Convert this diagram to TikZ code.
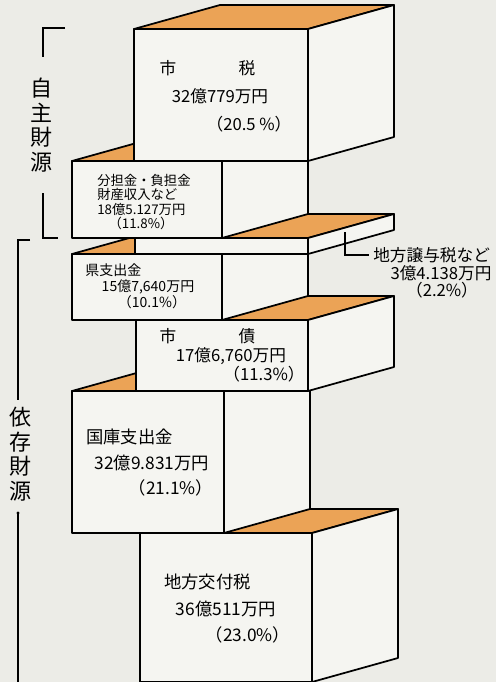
\documentclass[tikz,border=0pt]{standalone}
\usepackage{fontspec}
\setmainfont{Noto Sans CJK JP}
\definecolor{bgc}{RGB}{236,236,231}
\definecolor{facec}{RGB}{245,245,241}
\definecolor{topc}{RGB}{235,163,86}
\newcommand\drawblock[4]{%
  \filldraw[topface] (#1,#3) -- (#2,#3) -- ({#2+86},{#3-24}) -- ({#1+86},{#3-24}) -- cycle;
  \filldraw[sideface] (#2,#3) -- ({#2+86},{#3-24}) -- ({#2+86},{#4-24}) -- (#2,#4) -- cycle;
  \filldraw[frontface] (#1,#3) rectangle (#2,#4);}
\begin{document}
\begin{tikzpicture}[x=0.75pt,y=-0.75pt,
  edge/.style={draw=black, line width=1.3pt, line join=round},
  topface/.style={edge, fill=topc},
  sideface/.style={edge, fill=facec},
  frontface/.style={edge, fill=facec},
  brk/.style={draw=black, line width=1.1pt},
  txt/.style={inner sep=0pt},
  fA/.style={txt, font=\fontsize{12.5}{15}\selectfont},
  fB/.style={txt, font=\fontsize{10}{12}\selectfont},
  fC/.style={txt, font=\fontsize{10.5}{12}\selectfont},
  fD/.style={txt, font=\fontsize{13}{15}\selectfont},
  fL/.style={font=\fontsize{12.5}{15}\selectfont},
  fV/.style={txt, align=center, font=\fontsize{16.5}{18.4}\selectfont}]
\useasboundingbox (0,0) rectangle (496,682);
\fill[bgc] (0,0) rectangle (496,682);

% blocks, painted from bottom to top
\drawblock{140}{312}{533}{682}  % 地方交付税
\drawblock{72}{224}{391}{533}   % 国庫支出金
\drawblock{136}{308}{320}{391}  % 市債
\drawblock{72}{222}{254}{320}   % 県支出金
\drawblock{135}{308}{238}{254}  % 地方譲与税など
\drawblock{72}{222}{161}{238}   % 分担金
\drawblock{134}{308}{29}{161}   % 市税

% 市税
\node[fA] (sz1) at (168,68) {市};
\node[fA] (sz2) at (247,68) {税};
\node[fA] (sz3) at (220,96) {32億779万円};
\node[fA] (sz4) at (249,124) {（20.5 \%）};

% 分担金
\node[fB, anchor=west] (bt1) at (97,180) {分担金・負担金};
\node[fB, anchor=west] (bt2) at (97,194) {財産収入など};
\node[fB, anchor=west] (bt3) at (97,209) {18億5.127万円};
\node[fB] (bt4) at (141,223) {（11.8\%）};

% 県支出金
\node[fC, anchor=west] (ks1) at (85,270) {県支出金};
\node[fC] (ks2) at (148,287) {15億7,640万円};
\node[fC] (ks3) at (152,302) {（10.1\%）};

% 市債
\node[fA] (sc1) at (168,336) {市};
\node[fA] (sc2) at (247,336) {債};
\node[fA] (sc3) at (231,356) {17億6,760万円};
\node[fA] (sc4) at (264,374) {（11.3\%）};

% 国庫支出金
\node[fD, anchor=west] (kk1) at (86,437) {国庫支出金};
\node[fD] (kk2) at (152,463) {32億9.831万円};
\node[fD] (kk3) at (171,488) {（21.1\%）};

% 地方交付税
\node[fD, anchor=west] (ck1) at (164,582) {地方交付税};
\node[fD] (ck2) at (226,609) {36億511万円};
\node[fD] (ck3) at (248,635) {（23.0\%）};

% 地方譲与税など label
\node[fL, anchor=west, inner sep=3pt] (jy1) at (369,255) {地方譲与税など};
\node[fL, txt] (jy2) at (441,273) {3億4.138万円};
\node[fL, txt] (jy3) at (442,290) {（2.2\%）};
\coordinate (ldr) at (345,232);
\draw[brk] (ldr) |- (jy1.west);

% brackets
\node[fV] (jishu) at (42,125) {自\\主\\財\\源};
\draw[brk] (65,28) -- (43,28) -- (43,57);
\draw[brk] (43,193) -- (43,238) -- (58,238);
\node[fV] (izon) at (20,454) {依\\存\\財\\源};
\draw[brk] (30,240) -- (18,240) -- (18,400);
\draw[brk] (18,513) -- (18,682);
\fill (18,513) circle (1.6);
\end{tikzpicture}
\end{document}
